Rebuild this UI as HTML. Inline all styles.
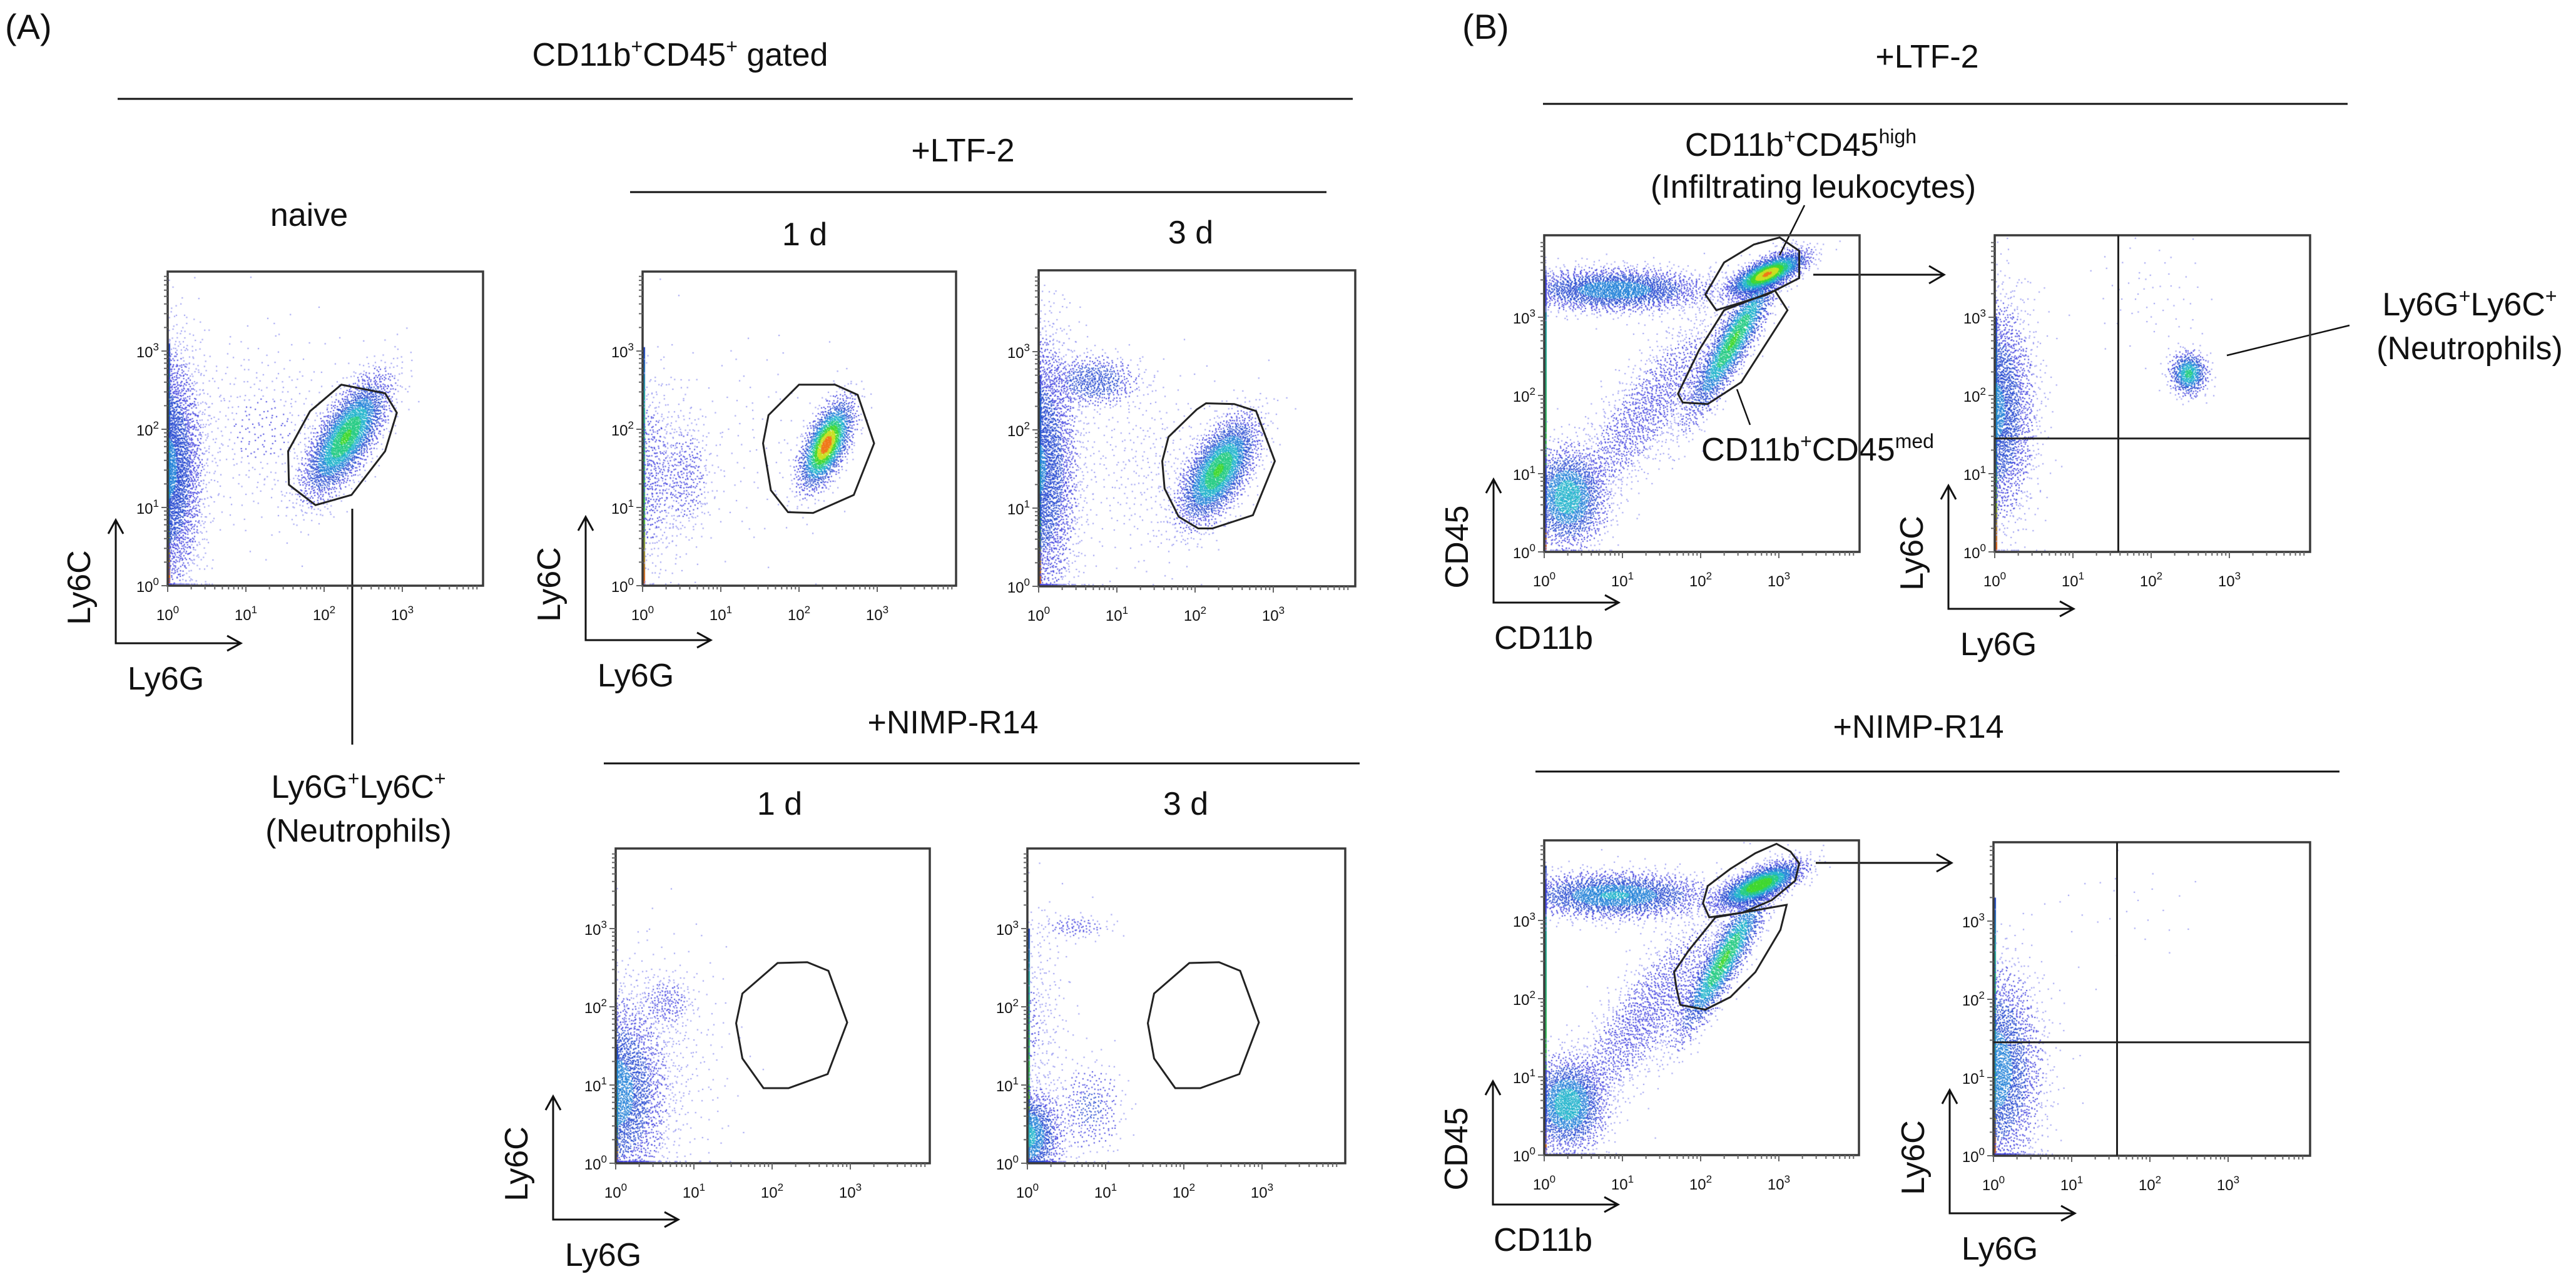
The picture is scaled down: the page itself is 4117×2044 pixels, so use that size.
<!DOCTYPE html>
<html><head><meta charset="utf-8">
<style>
body{margin:0;background:#fff;width:4117px;height:2044px;overflow:hidden;position:relative;font-family:"Liberation Sans",sans-serif}
canvas,svg{position:absolute;left:0;top:0}
text{font-family:"Liberation Sans",sans-serif;fill:#111}
</style></head>
<body>
<canvas id="dots" width="4117" height="2044"></canvas>
<svg id="fig" width="4117" height="2044" xmlns="http://www.w3.org/2000/svg">
<g font-size="52" text-anchor="middle">
<text x="8" y="62" text-anchor="start" font-size="56">(A)</text>
<text x="1087" y="105">CD11b<tspan font-size="32" dy="-20">+</tspan><tspan dy="20">CD45</tspan><tspan font-size="32" dy="-20">+</tspan><tspan dy="20"> gated</tspan></text>
<line x1="188" y1="158" x2="2162" y2="158" stroke="#111" stroke-width="3"/>
<text x="1539" y="258">+LTF-2</text>
<line x1="1007" y1="307" x2="2120" y2="307" stroke="#111" stroke-width="3"/>
<text x="494" y="361">naive</text>
<text x="1286" y="392">1 d</text>
<text x="1903" y="389">3 d</text>
<text x="1523" y="1172">+NIMP-R14</text>
<line x1="965" y1="1220" x2="2173" y2="1220" stroke="#111" stroke-width="3"/>
<text x="1246" y="1302">1 d</text>
<text x="1895" y="1302">3 d</text>
<line x1="563" y1="813" x2="563" y2="1190" stroke="#111" stroke-width="3"/>
<text x="573" y="1275">Ly6G<tspan font-size="32" dy="-20">+</tspan><tspan dy="20">Ly6C</tspan><tspan font-size="32" dy="-20">+</tspan></text>
<text x="573" y="1345">(Neutrophils)</text>

<text x="2337" y="62" text-anchor="start" font-size="56">(B)</text>
<text x="3080" y="108">+LTF-2</text>
<line x1="2466" y1="166" x2="3752" y2="166" stroke="#111" stroke-width="3"/>
<text x="2878" y="249">CD11b<tspan font-size="32" dy="-20">+</tspan><tspan dy="20">CD45</tspan><tspan font-size="32" dy="-20">high</tspan></text>
<text x="2898" y="316">(Infiltrating leukocytes)</text>
<line x1="2884" y1="328" x2="2844" y2="408" stroke="#111" stroke-width="2.5"/>
<text x="2905" y="736">CD11b<tspan font-size="32" dy="-20">+</tspan><tspan dy="20">CD45</tspan><tspan font-size="32" dy="-20">med</tspan></text>
<line x1="2797" y1="679" x2="2776" y2="622" stroke="#111" stroke-width="2.5"/>
<text x="3947" y="504">Ly6G<tspan font-size="32" dy="-20">+</tspan><tspan dy="20">Ly6C</tspan><tspan font-size="32" dy="-20">+</tspan></text>
<text x="3947" y="574">(Neutrophils)</text>
<line x1="3755" y1="520" x2="3559" y2="568" stroke="#111" stroke-width="2.5"/>
<text x="3066" y="1179">+NIMP-R14</text>
<line x1="2454" y1="1233" x2="3739" y2="1233" stroke="#111" stroke-width="3"/>
<g stroke="#111" stroke-width="3" fill="none">
<polyline points="2898,439 3107,439"/>
<polyline points="3083,425 3107,439 3083,453"/>
<polyline points="2902,1379 3119,1379"/>
<polyline points="3095,1365 3119,1379 3095,1393"/>
</g>
</g>
<g id="dyn"></g>
</svg>
<script>
// ---- data: cluster parameters in log10 units [cx, cy, sx, sy, rho, n, peak, halfX]
const naiveClusters = [[0,1.5,0.22,0.75,0,2400,0.32,1],[1.2,2.0,0.55,0.6,0,400,0.05,0],[2.28,1.9,0.27,0.38,0.7,3000,0.66,0]];
const ltf1Clusters = [[0,1.4,0.25,0.65,0,500,0.1,1],[0.55,1.4,0.18,0.4,0,350,0.1,0],[1.3,1.8,0.6,0.7,0,120,0.03,0],[2.35,1.8,0.17,0.28,0.6,2000,0.95,0]];
const ltf3Clusters = [[0,1.5,0.25,0.85,0,2300,0.3,1],[0.7,2.62,0.3,0.17,0,600,0.28,0],[1.4,1.5,0.5,0.6,0,350,0.04,0],[2.3,1.48,0.25,0.34,0.6,2700,0.66,0]];
const nimp1Clusters = [[0,0.9,0.32,0.6,0,1800,0.36,1],[0.65,2.05,0.18,0.18,0,200,0.12,0],[0.6,1.3,0.45,0.8,0,350,0.04,0]];
const nimp3Clusters = [[0,0.35,0.22,0.3,0,900,0.45,1],[0.8,0.7,0.22,0.3,0,300,0.18,0],[0.6,3.02,0.25,0.08,0,110,0.1,0],[0.2,1.8,0.25,0.7,0,260,0.05,1]];
const bLtfCd45Clusters = [[0.3,0.7,0.25,0.32,0,1900,0.5,0],[0.9,3.35,0.6,0.14,0,2300,0.38,0],[1.3,1.8,0.55,0.7,0.85,1500,0.1,0],[2.42,2.7,0.3,0.5,0.9,2300,0.66,0],[2.85,3.55,0.25,0.14,0.7,1900,0.9,0]];
const bLtfLy6gClusters = [[0,1.8,0.25,0.7,0,1900,0.32,1],[2.48,2.28,0.12,0.14,0,600,0.56,0],[2.0,3.3,0.4,0.4,0,60,0.02,0]];
const bNimpCd45Clusters = [[0.3,0.65,0.25,0.3,0,1900,0.5,0],[0.9,3.32,0.6,0.15,0,2300,0.42,0],[1.3,1.8,0.55,0.7,0.85,1600,0.12,0],[2.3,2.5,0.3,0.5,0.9,2100,0.66,0],[2.75,3.45,0.28,0.15,0.7,1900,0.76,0]];
const bNimpLy6gClusters = [[0,1.1,0.3,0.65,0,1900,0.38,1],[1.7,3.2,0.5,0.5,0,30,0.02,0]];
// gates (log10 units)
const neutroGateNaive = [[2.22,2.57],[2.78,2.46],[2.93,2.21],[2.78,1.72],[2.35,1.16],[1.89,1.03],[1.55,1.29],[1.54,1.72],[1.82,2.23]];
const neutroGateLtf1 = [[2.0,2.57],[2.46,2.57],[2.75,2.44],[2.96,1.82],[2.70,1.16],[2.18,0.93],[1.86,0.94],[1.64,1.22],[1.54,1.82],[1.61,2.18]];
const neutroGateLtf3 = [[2.14,2.34],[2.5,2.33],[2.78,2.24],[3.02,1.6],[2.74,0.91],[2.22,0.74],[2.04,0.74],[1.79,0.89],[1.61,1.25],[1.58,1.6],[1.66,1.91],[2.02,2.26]];
const neutroGateNimp = [[2.07,2.56],[2.45,2.57],[2.72,2.46],[2.96,1.8],[2.71,1.14],[2.21,0.96],[1.89,0.96],[1.62,1.34],[1.54,1.79],[1.62,2.17]];
const highGateLtf = [[3.01,4.02],[3.26,3.85],[3.26,3.5],[2.85,3.29],[2.2,3.09],[2.06,3.29],[2.3,3.7],[2.68,3.93]];
const medGateLtf = [[1.77,1.91],[2.09,1.89],[2.52,2.17],[3.11,3.09],[2.95,3.34],[2.3,3.09],[1.98,2.58],[1.71,2.02]];
const highGateNimp = [[2.97,3.98],[3.15,3.88],[3.26,3.73],[3.21,3.51],[2.91,3.26],[2.54,3.1],[2.11,3.04],[2.03,3.22],[2.09,3.44],[2.38,3.66],[2.7,3.86]];
const medGateNimp = [[3.1,3.2],[3.02,2.88],[2.7,2.34],[2.38,2.02],[2.06,1.86],[1.74,1.92],[1.69,2.14],[1.66,2.34],[1.85,2.62],[2.19,3.04]];
const quadX = 1.58, quadY = 1.45;
const tickExps = [0,1,2,3];
const stripTopLy = [3.1,3.05,2.7,1.5,3.0,3.6,3.0,3.7,3.3];

// ---- layout
const D = 125;
const plots = [
 {key:'naive',left:268,top:434,w:504,h:502,cl:naiveClusters,gates:[neutroGateNaive]},
 {key:'a-ltf2-1d',left:1027,top:434,w:501,h:502,cl:ltf1Clusters,gates:[neutroGateLtf1]},
 {key:'a-ltf2-3d',left:1660,top:432,w:506,h:505,cl:ltf3Clusters,gates:[neutroGateLtf3]},
 {key:'a-nimp-1d',left:984,top:1356,w:502,h:503,cl:nimp1Clusters,gates:[neutroGateNimp]},
 {key:'a-nimp-3d',left:1642,top:1356,w:508,h:503,cl:nimp3Clusters,gates:[neutroGateNimp]},
 {key:'b-ltf2-cd45',left:2468,top:376,w:504,h:506,cl:bLtfCd45Clusters,gates:[highGateLtf,medGateLtf]},
 {key:'b-ltf2-ly6g',left:3188,top:376,w:504,h:506,cl:bLtfLy6gClusters,gates:[],quad:true},
 {key:'b-nimp-cd45',left:2468,top:1343,w:503,h:503,cl:bNimpCd45Clusters,gates:[highGateNimp,medGateNimp]},
 {key:'b-nimp-ly6g',left:3186,top:1346,w:506,h:501,cl:bNimpLy6gClusters,gates:[],quad:true}
];
const axesBlocks = [[185,1028,'Ly6C','Ly6G'],[936,1023,'Ly6C','Ly6G'],[884,1949,'Ly6C','Ly6G'],[2387,963,'CD45','CD11b'],[3114,973,'Ly6C','Ly6G'],[2386,1925,'CD45','CD11b'],[3116,1939,'Ly6C','Ly6G']];

const NS='http://www.w3.org/2000/svg';
const dyn=document.getElementById('dyn');
function mk(tag,attrs,parent){const e=document.createElementNS(NS,tag);for(const k in attrs)e.setAttribute(k,attrs[k]);(parent||dyn).appendChild(e);return e;}
const xPix=(p,lx)=>p.left+Math.min(lx,p.w/D)*D;
const yPix=(p,ly)=>p.top+p.h-Math.min(ly,p.h/D)*D;

function halton(i,b){let f=1,r=0;while(i>0){f/=b;r+=f*(i%b);i=Math.floor(i/b);}return r;}
function color(d){
 if(d<0.04)return '#9698f2';
 if(d<0.14)return '#4444e0';
 if(d<0.28)return '#2448d0';
 if(d<0.4)return '#2080d8';
 if(d<0.52)return '#20b4cc';
 if(d<0.64)return '#26cc84';
 if(d<0.76)return '#40d830';
 if(d<0.88)return '#c8e020';
 return '#f07818';
}
const ctx=document.getElementById('dots').getContext('2d');
ctx.fillStyle='#fff';ctx.fillRect(0,0,4117,2044);
let seq=1;
plots.forEach((p,pi)=>{
 const g=ctx.createLinearGradient(0,p.top+p.h,0,yPix(p,stripTopLy[pi]));
 g.addColorStop(0,'#e05818');g.addColorStop(0.3,'#38c040');g.addColorStop(0.8,'#20a0a0');g.addColorStop(1,'#2040c0');
 ctx.fillStyle=g;ctx.fillRect(p.left,yPix(p,stripTopLy[pi]),4,p.h-(yPix(p,stripTopLy[pi])-p.top));
 const pts=[];
 p.cl.forEach(c=>{
  const [cx,cy,sx,sy,rho,n,peak,half]=c;
  for(let k=0;k<n;k++){
   seq++;
   const u1=Math.max(1e-6,halton(seq,2)),u2=halton(seq,3);
   const rr=Math.sqrt(-2*Math.log(u1));
   const z1=rr*Math.cos(2*Math.PI*u2),z2=rr*Math.sin(2*Math.PI*u2);
   let lx=half?Math.abs(z1)*sx:cx+sx*z1;
   let ly=cy+sy*(rho*z1+Math.sqrt(1-rho*rho)*z2);
   lx=Math.max(0.02,lx);ly=Math.max(0.02,ly);
   const d=peak*Math.exp(-0.5*(z1*z1+z2*z2));
   pts.push([lx,ly,d]);
  }
 });
 pts.sort((a,b)=>a[2]-b[2]);
 pts.forEach(q=>{
  if(q[0]*D>p.w-3||q[1]*D>p.h-3)return;
  ctx.fillStyle=color(q[2]);
  ctx.fillRect(xPix(p,q[0])-1,yPix(p,q[1])-1,2,2);
 });
 const box=mk('rect',{x:p.left,y:p.top,width:p.w,height:p.h,fill:'none',stroke:'#3a3a3a','stroke-width':3.5});
 
 
 const tg=mk('g',{stroke:'#666','stroke-width':2});
 
 
 for(let e=0;e<=3;e++){for(let m=1;m<10;m++){const v=e+Math.log10(m);
  const len=m===1?10:6;
  const xt=xPix(p,v);mk('line',{x1:xt,y1:p.top+p.h,x2:xt,y2:p.top+p.h+len},tg);
  const yt=yPix(p,v);mk('line',{x1:p.left,y1:yt,x2:p.left-len,y2:yt},tg);}}
 tickExps.forEach(e=>{
  const tx=mk('text',{x:xPix(p,e),y:p.top+p.h+55,'font-size':24,'text-anchor':'middle',fill:'#444'});
  
  
  tx.innerHTML='10<tspan font-size="17" dy="-11">'+e+'</tspan>';
  const ty=mk('text',{x:p.left-14,y:yPix(p,e)+10,'font-size':24,'text-anchor':'end',fill:'#444'});
  
  
  ty.innerHTML='10<tspan font-size="17" dy="-11">'+e+'</tspan>';
 });
 p.gates.forEach(gt=>{
  const pg=mk('polygon',{points:gt.map(v=>xPix(p,v[0])+','+yPix(p,v[1])).join(' '),fill:'none',stroke:'#222','stroke-width':3});
  
  
 });
 if(p.quad){
  const qv=mk('line',{x1:xPix(p,quadX),y1:p.top,x2:xPix(p,quadX),y2:p.top+p.h,stroke:'#222','stroke-width':3});
  
  
  const qh=mk('line',{x1:p.left,y1:yPix(p,quadY),x2:p.left+p.w,y2:yPix(p,quadY),stroke:'#222','stroke-width':3});
  
  
 }
});
axesBlocks.forEach(a=>{
 const [ax,ay,yl,xl]=a;
 const ar=mk('polyline',{points:`${ax},${ay-197} ${ax},${ay} ${ax+200},${ay}`,fill:'none',stroke:'#111','stroke-width':3});
 
 
 const h1=mk('polyline',{points:`${ax-12},${ay-175} ${ax},${ay-197} ${ax+12},${ay-175}`,fill:'none',stroke:'#111','stroke-width':3});
 
 
 const h2=mk('polyline',{points:`${ax+178},${ay-12} ${ax+200},${ay} ${ax+178},${ay+12}`,fill:'none',stroke:'#111','stroke-width':3});
 
 
 const t1=mk('text',{x:ax-58,y:ay-89,'font-size':52,'text-anchor':'middle','dominant-baseline':'central',transform:`rotate(-90 ${ax-58} ${ay-89})`});
 
 
 t1.textContent=yl;
 const t2=mk('text',{x:ax+80,y:ay+57,'font-size':52,'text-anchor':'middle','dominant-baseline':'central'});
 
 
 t2.textContent=xl;
});
</script>
</body></html>
